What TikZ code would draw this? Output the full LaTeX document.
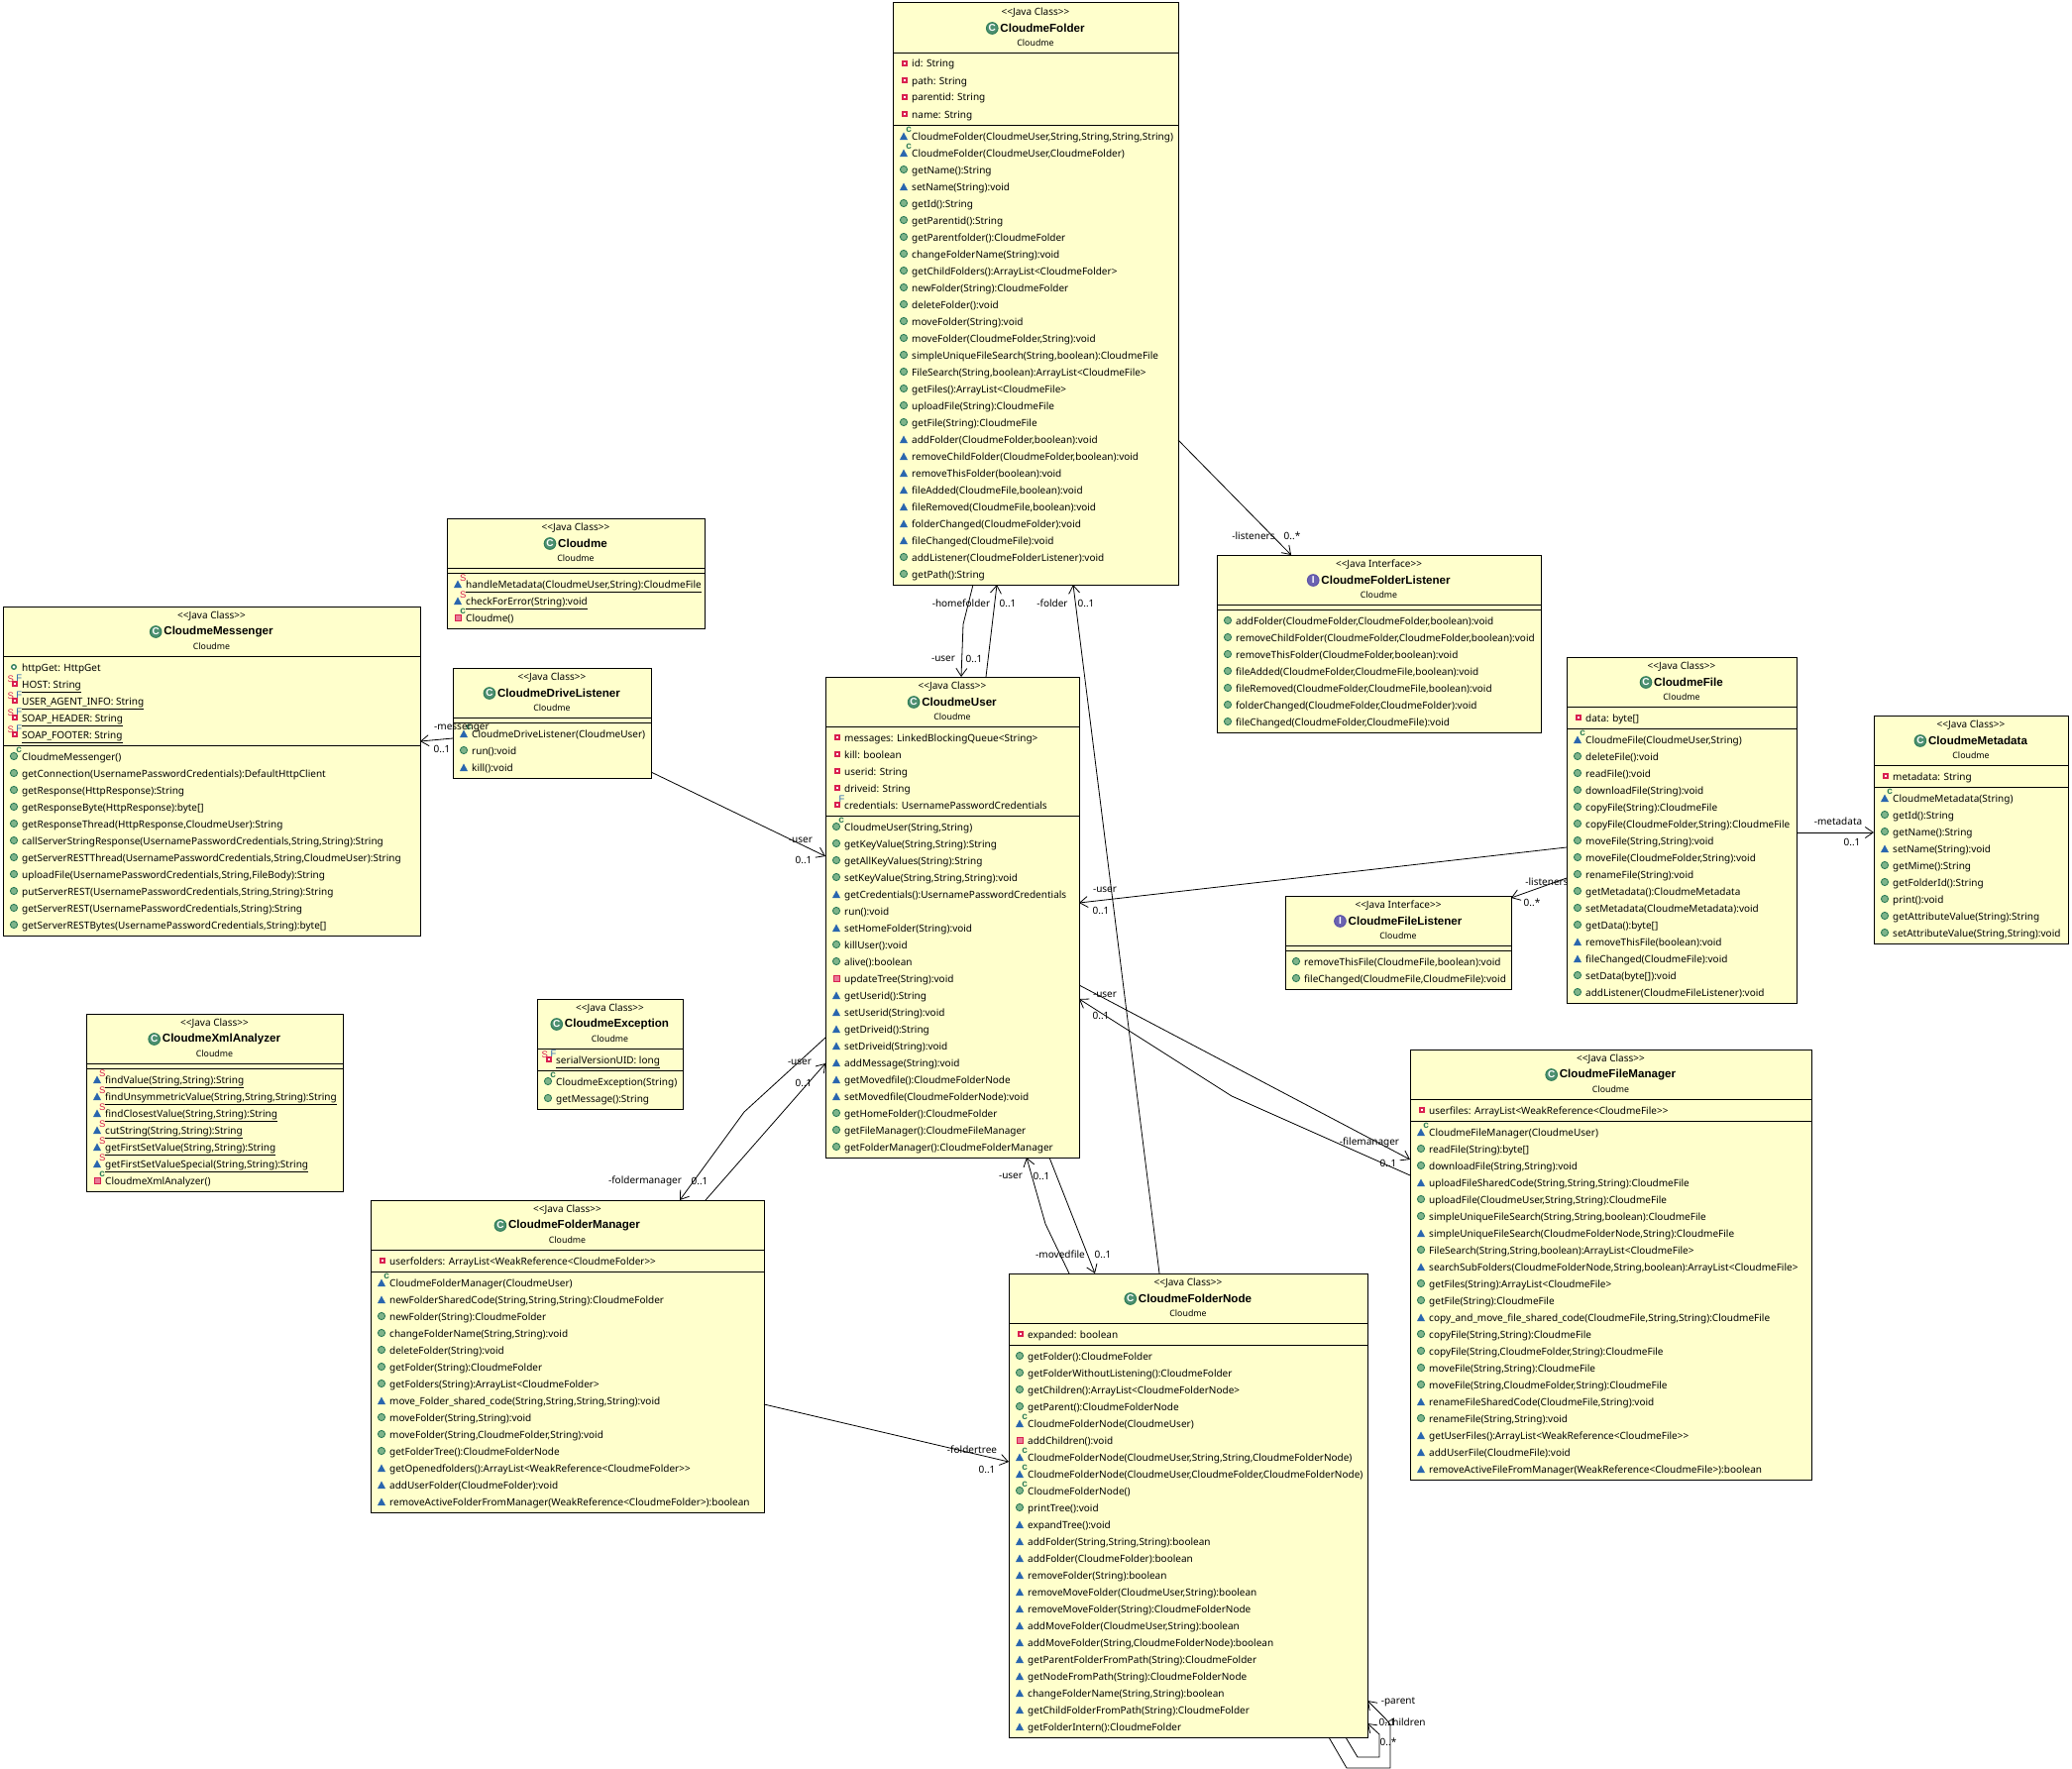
\documentclass[tikz,border=0pt]{standalone}
\usepackage{fontspec}
\setmainfont{Noto Sans}[Ligatures=TeXOff]
\newfontfamily\headfont{Liberation Sans}[Ligatures=TeXOff]
\usetikzlibrary{arrows.meta}

\definecolor{boxfill}{HTML}{FFFFCC}
\definecolor{icgreen}{HTML}{2F7D58}
\definecolor{icgreenl}{HTML}{7FB48A}
\definecolor{icblue}{HTML}{2A66AE}
\definecolor{icred}{HTML}{D9204F}
\definecolor{icviolet}{HTML}{5B52A8}

\newcount\rowno
% class box with its compartments: name, x, y, width, fields, methods, kind, icon, title
\newcommand\umlclass[9]{%
  \def\curcls{#1}\xdef\rowx{#2}\xdef\rowy{\the\numexpr#3+61\relax}\global\rowno=0
  \node[cbox, minimum width=#4pt, minimum height=\the\numexpr60+17*#5+17*#6\relax pt] (#1) at (#2,#3) {};
  \draw[csep] ([yshift=-50pt]#1.north west) -- ([yshift=-50pt]#1.north east);
  \draw[csep] ([yshift=-\the\numexpr55+17*#5\relax pt]#1.north west) -- ([yshift=-\the\numexpr55+17*#5\relax pt]#1.north east);
  \node[rowtxt, anchor=center] (#1-k) at ([yshift=-9.5pt]#1.north) {<<Java #7>>};
  \node[ctitle] (#1-t) at ([xshift=7pt,yshift=-25.5pt]#1.north) {#9};
  \pic at ([xshift=-8pt]#1-t.west) {#8};
  \node[rowtxt, anchor=center, font=\fontsize{8.8}{10}\selectfont] (#1-p) at ([yshift=-40pt]#1.north) {Cloudme};
}
% next compartment
\newcommand\nextpart{\xdef\rowy{\the\numexpr\rowy+5\relax}}
% one member row: icons, text
\newcommand\mbr[2]{%
  \global\advance\rowno by 1
  \node[rowtxt] (\curcls-\the\rowno) at (\rowx+19,\rowy+4) {#2};
  \foreach \ic in {#1} {\edef\doic{\noexpand\pic at (\rowx+11,\rowy) {\ic};}\doic}
  \xdef\rowy{\the\numexpr\rowy+17\relax}%
}
% same, underlined (static)
\newcommand\smbr[2]{%
  \mbr{#1}{#2}
  \draw[line width=.8pt] ([yshift=-4pt]\curcls-\the\rowno.base west) -- ([yshift=-4pt]\curcls-\the\rowno.base east);
}

\begin{document}
\begin{tikzpicture}[
  x=1pt, y=-1pt,
  cbox/.style={draw, line width=1pt, fill=boxfill, anchor=north west, inner sep=0pt, outer sep=0pt},
  csep/.style={line width=.9pt},
  rowtxt/.style={anchor=base west, inner sep=0pt, font=\fontsize{10}{11}\selectfont},
  ctitle/.style={inner sep=0pt, font=\headfont\fontsize{11.6}{12}\selectfont\bfseries},
  lbl/.style={inner sep=0pt, font=\fontsize{10}{11}\selectfont},
  arr/.style={-{Straight Barb[length=8pt,width=11pt]}, line width=.8pt},
  tag/.style={inner sep=0pt, font=\headfont\fontsize{10}{10}\selectfont\bfseries},
  mpub/.pic={\draw[line width=.9pt, draw=icgreen, fill=icgreenl] (0,0) circle (3.6);},
  fpub/.pic={\draw[line width=1.3pt, draw=icgreen, fill=white] (0,0) circle (2.3);},
  mpkg/.pic={\fill[icblue] (-4,4) -- (4,4) -- (0,-3.5) -- cycle;},
  mpriv/.pic={\draw[line width=.9pt, draw=icred, fill=icred!60] (-3,-3) rectangle (3,3);},
  fpriv/.pic={\fill[icred] (-1.7,-2.7) rectangle (3.7,2.7); \fill[white] (0.2,-0.8) rectangle (1.8,0.8);},
  ctor/.pic={\node[tag, text=icgreen] (-c) at (5.2,-6.3) {c};},
  stat/.pic={\node[tag, text=icred, font=\headfont\fontsize{9.5}{10}\selectfont] (-s) at (5.2,-5.5) {S};},
  sfld/.pic={\node[tag, text=icred, font=\headfont\fontsize{9.5}{10}\selectfont] (-s) at (-3.3,-5) {S};},
  fin/.pic={\node[tag, text=icblue, font=\headfont\fontsize{9.5}{10}\selectfont] (-f) at (5.4,-5.5) {F};},
  cicon/.pic={\draw[line width=1pt, draw=icgreen, fill=icgreen!85] (0,0) circle (5.8);
    \node[tag, text=white, font=\headfont\fontsize{10}{10}\selectfont\bfseries] (-l) at (0,0) {C};},
  iicon/.pic={\draw[line width=1pt, draw=icviolet, fill=icviolet!90] (0,0) circle (5.8);
    \node[tag, text=white, font=\headfont\fontsize{10}{10}\selectfont\bfseries] (-l) at (0,0) {I};},
]
  \useasboundingbox (0,0) rectangle (2091,1785);

  % Classes
  \umlclass{cFolder}{901}{3}{288}{4}{27}{Class}{cicon}{CloudmeFolder}
  \mbr{fpriv}{id: String}
  \mbr{fpriv}{path: String}
  \mbr{fpriv}{parentid: String}
  \mbr{fpriv}{name: String}
  \nextpart
  \mbr{mpkg,ctor}{CloudmeFolder(CloudmeUser,String,String,String,String)}
  \mbr{mpkg,ctor}{CloudmeFolder(CloudmeUser,CloudmeFolder)}
  \mbr{mpub}{getName():String}
  \mbr{mpkg}{setName(String):void}
  \mbr{mpub}{getId():String}
  \mbr{mpub}{getParentid():String}
  \mbr{mpub}{getParentfolder():CloudmeFolder}
  \mbr{mpub}{changeFolderName(String):void}
  \mbr{mpub}{getChildFolders():ArrayList<CloudmeFolder>}
  \mbr{mpub}{newFolder(String):CloudmeFolder}
  \mbr{mpub}{deleteFolder():void}
  \mbr{mpub}{moveFolder(String):void}
  \mbr{mpub}{moveFolder(CloudmeFolder,String):void}
  \mbr{mpub}{simpleUniqueFileSearch(String,boolean):CloudmeFile}
  \mbr{mpub}{FileSearch(String,boolean):ArrayList<CloudmeFile>}
  \mbr{mpub}{getFiles():ArrayList<CloudmeFile>}
  \mbr{mpub}{uploadFile(String):CloudmeFile}
  \mbr{mpub}{getFile(String):CloudmeFile}
  \mbr{mpkg}{addFolder(CloudmeFolder,boolean):void}
  \mbr{mpkg}{removeChildFolder(CloudmeFolder,boolean):void}
  \mbr{mpkg}{removeThisFolder(boolean):void}
  \mbr{mpkg}{fileAdded(CloudmeFile,boolean):void}
  \mbr{mpkg}{fileRemoved(CloudmeFile,boolean):void}
  \mbr{mpkg}{folderChanged(CloudmeFolder):void}
  \mbr{mpkg}{fileChanged(CloudmeFile):void}
  \mbr{mpub}{addListener(CloudmeFolderListener):void}
  \mbr{mpub}{getPath():String}

  \umlclass{cMain}{451}{523}{260}{0}{3}{Class}{cicon}{Cloudme}
  \nextpart
  \smbr{mpkg,stat}{handleMetadata(CloudmeUser,String):CloudmeFile}
  \smbr{mpkg,stat}{checkForError(String):void}
  \mbr{mpriv,ctor}{Cloudme()}

  \umlclass{cMessenger}{3}{612}{421}{5}{11}{Class}{cicon}{CloudmeMessenger}
  \mbr{fpub}{httpGet: HttpGet}
  \smbr{fpriv,sfld,fin}{HOST: String}
  \smbr{fpriv,sfld,fin}{USER\_AGENT\_INFO: String}
  \smbr{fpriv,sfld,fin}{SOAP\_HEADER: String}
  \smbr{fpriv,sfld,fin}{SOAP\_FOOTER: String}
  \nextpart
  \mbr{mpub,ctor}{CloudmeMessenger()}
  \mbr{mpub}{getConnection(UsernamePasswordCredentials):DefaultHttpClient}
  \mbr{mpub}{getResponse(HttpResponse):String}
  \mbr{mpub}{getResponseByte(HttpResponse):byte[]}
  \mbr{mpub}{getResponseThread(HttpResponse,CloudmeUser):String}
  \mbr{mpub}{callServerStringResponse(UsernamePasswordCredentials,String,String):String}
  \mbr{mpub}{getServerRESTThread(UsernamePasswordCredentials,String,CloudmeUser):String}
  \mbr{mpub}{uploadFile(UsernamePasswordCredentials,String,FileBody):String}
  \mbr{mpub}{putServerREST(UsernamePasswordCredentials,String,String):String}
  \mbr{mpub}{getServerREST(UsernamePasswordCredentials,String):String}
  \mbr{mpub}{getServerRESTBytes(UsernamePasswordCredentials,String):byte[]}

  \umlclass{cDrive}{457}{674}{200}{0}{3}{Class}{cicon}{CloudmeDriveListener}
  \nextpart
  \mbr{mpkg,ctor}{CloudmeDriveListener(CloudmeUser)}
  \mbr{mpub}{run():void}
  \mbr{mpkg}{kill():void}

  \umlclass{cUser}{833}{683}{256}{5}{20}{Class}{cicon}{CloudmeUser}
  \mbr{fpriv}{messages: LinkedBlockingQueue<String>}
  \mbr{fpriv}{kill: boolean}
  \mbr{fpriv}{userid: String}
  \mbr{fpriv}{driveid: String}
  \mbr{fpriv,fin}{credentials: UsernamePasswordCredentials}
  \nextpart
  \mbr{mpub,ctor}{CloudmeUser(String,String)}
  \mbr{mpub}{getKeyValue(String,String):String}
  \mbr{mpub}{getAllKeyValues(String):String}
  \mbr{mpub}{setKeyValue(String,String,String):void}
  \mbr{mpkg}{getCredentials():UsernamePasswordCredentials}
  \mbr{mpub}{run():void}
  \mbr{mpkg}{setHomeFolder(String):void}
  \mbr{mpub}{killUser():void}
  \mbr{mpub}{alive():boolean}
  \mbr{mpriv}{updateTree(String):void}
  \mbr{mpkg}{getUserid():String}
  \mbr{mpkg}{setUserid(String):void}
  \mbr{mpkg}{getDriveid():String}
  \mbr{mpkg}{setDriveid(String):void}
  \mbr{mpkg}{addMessage(String):void}
  \mbr{mpkg}{getMovedfile():CloudmeFolderNode}
  \mbr{mpkg}{setMovedfile(CloudmeFolderNode):void}
  \mbr{mpub}{getHomeFolder():CloudmeFolder}
  \mbr{mpub}{getFileManager():CloudmeFileManager}
  \mbr{mpub}{getFolderManager():CloudmeFolderManager}

  \umlclass{cFolderLsn}{1228}{560}{327}{0}{7}{Interface}{iicon}{CloudmeFolderListener}
  \nextpart
  \mbr{mpub}{addFolder(CloudmeFolder,CloudmeFolder,boolean):void}
  \mbr{mpub}{removeChildFolder(CloudmeFolder,CloudmeFolder,boolean):void}
  \mbr{mpub}{removeThisFolder(CloudmeFolder,boolean):void}
  \mbr{mpub}{fileAdded(CloudmeFolder,CloudmeFile,boolean):void}
  \mbr{mpub}{fileRemoved(CloudmeFolder,CloudmeFile,boolean):void}
  \mbr{mpub}{folderChanged(CloudmeFolder,CloudmeFolder):void}
  \mbr{mpub}{fileChanged(CloudmeFolder,CloudmeFile):void}

  \umlclass{cFileLsn}{1297}{904}{228}{0}{2}{Interface}{iicon}{CloudmeFileListener}
  \nextpart
  \mbr{mpub}{removeThisFile(CloudmeFile,boolean):void}
  \mbr{mpub}{fileChanged(CloudmeFile,CloudmeFile):void}

  \umlclass{cFile}{1581}{663}{232}{1}{16}{Class}{cicon}{CloudmeFile}
  \mbr{fpriv}{data: byte[]}
  \nextpart
  \mbr{mpkg,ctor}{CloudmeFile(CloudmeUser,String)}
  \mbr{mpub}{deleteFile():void}
  \mbr{mpub}{readFile():void}
  \mbr{mpub}{downloadFile(String):void}
  \mbr{mpub}{copyFile(String):CloudmeFile}
  \mbr{mpub}{copyFile(CloudmeFolder,String):CloudmeFile}
  \mbr{mpub}{moveFile(String,String):void}
  \mbr{mpub}{moveFile(CloudmeFolder,String):void}
  \mbr{mpub}{renameFile(String):void}
  \mbr{mpub}{getMetadata():CloudmeMetadata}
  \mbr{mpub}{setMetadata(CloudmeMetadata):void}
  \mbr{mpub}{getData():byte[]}
  \mbr{mpkg}{removeThisFile(boolean):void}
  \mbr{mpkg}{fileChanged(CloudmeFile):void}
  \mbr{mpub}{setData(byte[]):void}
  \mbr{mpub}{addListener(CloudmeFileListener):void}

  \umlclass{cMeta}{1891}{722}{196}{1}{9}{Class}{cicon}{CloudmeMetadata}
  \mbr{fpriv}{metadata: String}
  \nextpart
  \mbr{mpkg,ctor}{CloudmeMetadata(String)}
  \mbr{mpub}{getId():String}
  \mbr{mpub}{getName():String}
  \mbr{mpkg}{setName(String):void}
  \mbr{mpub}{getMime():String}
  \mbr{mpub}{getFolderId():String}
  \mbr{mpub}{print():void}
  \mbr{mpub}{getAttributeValue(String):String}
  \mbr{mpub}{setAttributeValue(String,String):void}

  \umlclass{cFileMgr}{1423}{1059}{405}{1}{21}{Class}{cicon}{CloudmeFileManager}
  \mbr{fpriv}{userfiles: ArrayList<WeakReference<CloudmeFile>>}
  \nextpart
  \mbr{mpkg,ctor}{CloudmeFileManager(CloudmeUser)}
  \mbr{mpub}{readFile(String):byte[]}
  \mbr{mpub}{downloadFile(String,String):void}
  \mbr{mpkg}{uploadFileSharedCode(String,String,String):CloudmeFile}
  \mbr{mpub}{uploadFile(CloudmeUser,String,String):CloudmeFile}
  \mbr{mpub}{simpleUniqueFileSearch(String,String,boolean):CloudmeFile}
  \mbr{mpkg}{simpleUniqueFileSearch(CloudmeFolderNode,String):CloudmeFile}
  \mbr{mpub}{FileSearch(String,String,boolean):ArrayList<CloudmeFile>}
  \mbr{mpkg}{searchSubFolders(CloudmeFolderNode,String,boolean):ArrayList<CloudmeFile>}
  \mbr{mpub}{getFiles(String):ArrayList<CloudmeFile>}
  \mbr{mpub}{getFile(String):CloudmeFile}
  \mbr{mpkg}{copy\_and\_move\_file\_shared\_code(CloudmeFile,String,String):CloudmeFile}
  \mbr{mpub}{copyFile(String,String):CloudmeFile}
  \mbr{mpub}{copyFile(String,CloudmeFolder,String):CloudmeFile}
  \mbr{mpub}{moveFile(String,String):CloudmeFile}
  \mbr{mpub}{moveFile(String,CloudmeFolder,String):CloudmeFile}
  \mbr{mpkg}{renameFileSharedCode(CloudmeFile,String):void}
  \mbr{mpub}{renameFile(String,String):void}
  \mbr{mpkg}{getUserFiles():ArrayList<WeakReference<CloudmeFile>>}
  \mbr{mpkg}{addUserFile(CloudmeFile):void}
  \mbr{mpkg}{removeActiveFileFromManager(WeakReference<CloudmeFile>):boolean}

  \umlclass{cXml}{87}{1023}{259}{0}{7}{Class}{cicon}{CloudmeXmlAnalyzer}
  \nextpart
  \smbr{mpkg,stat}{findValue(String,String):String}
  \smbr{mpkg,stat}{findUnsymmetricValue(String,String,String):String}
  \smbr{mpkg,stat}{findClosestValue(String,String):String}
  \smbr{mpkg,stat}{cutString(String,String):String}
  \smbr{mpkg,stat}{getFirstSetValue(String,String):String}
  \smbr{mpkg,stat}{getFirstSetValueSpecial(String,String):String}
  \mbr{mpriv,ctor}{CloudmeXmlAnalyzer()}

  \umlclass{cExc}{542}{1008}{147}{1}{2}{Class}{cicon}{CloudmeException}
  \smbr{fpriv,sfld,fin}{serialVersionUID: long}
  \nextpart
  \mbr{mpub,ctor}{CloudmeException(String)}
  \mbr{mpub}{getMessage():String}

  \umlclass{cFolderMgr}{374}{1211}{397}{1}{14}{Class}{cicon}{CloudmeFolderManager}
  \mbr{fpriv}{userfolders: ArrayList<WeakReference<CloudmeFolder>>}
  \nextpart
  \mbr{mpkg,ctor}{CloudmeFolderManager(CloudmeUser)}
  \mbr{mpkg}{newFolderSharedCode(String,String,String):CloudmeFolder}
  \mbr{mpub}{newFolder(String):CloudmeFolder}
  \mbr{mpub}{changeFolderName(String,String):void}
  \mbr{mpub}{deleteFolder(String):void}
  \mbr{mpub}{getFolder(String):CloudmeFolder}
  \mbr{mpub}{getFolders(String):ArrayList<CloudmeFolder>}
  \mbr{mpkg}{move\_Folder\_shared\_code(String,String,String,String):void}
  \mbr{mpub}{moveFolder(String,String):void}
  \mbr{mpub}{moveFolder(String,CloudmeFolder,String):void}
  \mbr{mpub}{getFolderTree():CloudmeFolderNode}
  \mbr{mpkg}{getOpenedfolders():ArrayList<WeakReference<CloudmeFolder>>}
  \mbr{mpkg}{addUserFolder(CloudmeFolder):void}
  \mbr{mpkg}{removeActiveFolderFromManager(WeakReference<CloudmeFolder>):boolean}

  \umlclass{cNode}{1018}{1285}{362}{1}{23}{Class}{cicon}{CloudmeFolderNode}
  \mbr{fpriv}{expanded: boolean}
  \nextpart
  \mbr{mpub}{getFolder():CloudmeFolder}
  \mbr{mpub}{getFolderWithoutListening():CloudmeFolder}
  \mbr{mpub}{getChildren():ArrayList<CloudmeFolderNode>}
  \mbr{mpub}{getParent():CloudmeFolderNode}
  \mbr{mpkg,ctor}{CloudmeFolderNode(CloudmeUser)}
  \mbr{mpriv}{addChildren():void}
  \mbr{mpkg,ctor}{CloudmeFolderNode(CloudmeUser,String,String,CloudmeFolderNode)}
  \mbr{mpkg,ctor}{CloudmeFolderNode(CloudmeUser,CloudmeFolder,CloudmeFolderNode)}
  \mbr{mpub,ctor}{CloudmeFolderNode()}
  \mbr{mpub}{printTree():void}
  \mbr{mpkg}{expandTree():void}
  \mbr{mpkg}{addFolder(String,String,String):boolean}
  \mbr{mpkg}{addFolder(CloudmeFolder):boolean}
  \mbr{mpkg}{removeFolder(String):boolean}
  \mbr{mpkg}{removeMoveFolder(CloudmeUser,String):boolean}
  \mbr{mpkg}{removeMoveFolder(String):CloudmeFolderNode}
  \mbr{mpkg}{addMoveFolder(CloudmeUser,String):boolean}
  \mbr{mpkg}{addMoveFolder(String,CloudmeFolderNode):boolean}
  \mbr{mpkg}{getParentFolderFromPath(String):CloudmeFolder}
  \mbr{mpkg}{getNodeFromPath(String):CloudmeFolderNode}
  \mbr{mpkg}{changeFolderName(String,String):boolean}
  \mbr{mpkg}{getChildFolderFromPath(String):CloudmeFolder}
  \mbr{mpkg}{getFolderIntern():CloudmeFolder}

  % Associations
  \draw[arr] ([yshift=-441pt]cFolder.north east) -- ([xshift=75pt]cFolderLsn.north west);
  \draw[arr] ([xshift=81pt]cFolder.south west) -- ++(-10,40) -- ([xshift=137pt]cUser.north west);
  \draw[arr] ([xshift=162pt]cUser.north west) -- ([xshift=105pt]cFolder.south west);
  \draw[arr] ([xshift=152pt]cNode.north west) -- ([xshift=182pt]cFolder.south west);
  \draw[arr] ([yshift=-71pt]cDrive.north west) -- ([yshift=-136pt]cMessenger.north east);
  \draw[arr] ([yshift=-105pt]cDrive.north east) -- ([yshift=-181pt]cUser.north west);
  \draw[arr] ([yshift=-192pt]cFile.north west) -- ([yshift=-228pt]cUser.north east);
  \draw[arr] ([yshift=-223pt]cFile.north west) -- ([yshift=-2pt]cFileLsn.north east);
  \draw[arr] ([yshift=-177pt]cFile.north east) -- ([yshift=-118pt]cMeta.north west);
  \draw[arr] ([yshift=-311pt]cUser.north east) -- ([yshift=-111pt]cFileMgr.north west);
  \draw[arr] ([yshift=-127pt]cFileMgr.north west) -- ++(-180,-80) -- ([yshift=-325pt]cUser.north east);
  \draw[arr] ([yshift=-364pt]cUser.north west) -- ++(-82,75) -- ([xshift=312pt]cFolderMgr.north west);
  \draw[arr] ([xshift=338pt]cFolderMgr.north west) -- ([yshift=-390pt]cUser.north west);
  \draw[arr] ([xshift=61pt]cNode.north west) -- ++(-24,-50) -- ([xshift=203pt]cUser.south west);
  \draw[arr] ([xshift=226pt]cUser.south west) -- ([xshift=87pt]cNode.north west);
  \draw[arr] ([yshift=-206pt]cFolderMgr.north east) -- ([yshift=-190pt]cNode.north west);

  % Self loops
  \draw[arr] ([xshift=323pt]cNode.south west) -- ++(18,31) -- ++(44,0) -- ++(0,-44) -- ++(-5,-6) -- ([yshift=37pt]cNode.south east);
  \draw[arr] ([xshift=340pt]cNode.south west) -- ++(12,20) -- ++(22,0) -- ++(0,-23) -- ([yshift=14pt]cNode.south east);

  % End labels
  \node[lbl] (lLsnA) at (1265,541) {-listeners};
  \node[lbl] (lLsnB) at (1304,541) {0..*};
  \node[lbl] (lHomeA) at (970,609) {-homefolder};
  \node[lbl] (lHomeB) at (1017,609) {0..1};
  \node[lbl] (lOwnerA) at (952,665) {-user};
  \node[lbl] (lOwnerB) at (983,665) {0..1};
  \node[lbl] (lFolderA) at (1062,609) {-folder};
  \node[lbl] (lFolderB) at (1096,609) {0..1};
  \node[lbl] (lMsgA) at (466,735) {-messenger};
  \node[lbl] (lMsgB) at (446,756) {0..1};
  \node[lbl] (lDrvA) at (808,848) {-user};
  \node[lbl] (lDrvB) at (811,868) {0..1};
  \node[lbl] (lFileA) at (1115,898) {-user};
  \node[lbl] (lFileB) at (1111,919) {0..1};
  \node[lbl] (lFLsnA) at (1561,890) {-listeners};
  \node[lbl] (lFLsnB) at (1546,911) {0..*};
  \node[lbl] (lMetaA) at (1855,829) {-metadata};
  \node[lbl] (lMetaB) at (1869,850) {0..1};
  \node[lbl] (lFMgrA) at (1382,1153) {-filemanager};
  \node[lbl] (lFMgrB) at (1401,1174) {0..1};
  \node[lbl] (lFOwnA) at (1115,1004) {-user};
  \node[lbl] (lFOwnB) at (1111,1025) {0..1};
  \node[lbl] (lDMgrA) at (651,1192) {-foldermanager};
  \node[lbl] (lDMgrB) at (706,1192) {0..1};
  \node[lbl] (lDOwnA) at (807,1072) {-user};
  \node[lbl] (lDOwnB) at (811,1093) {0..1};
  \node[lbl] (lNOwnA) at (1020,1187) {-user};
  \node[lbl] (lNOwnB) at (1051,1187) {0..1};
  \node[lbl] (lMovedA) at (1070,1266) {-movedfile};
  \node[lbl] (lMovedB) at (1113,1266) {0..1};
  \node[lbl] (lTreeA) at (981,1463) {-foldertree};
  \node[lbl] (lTreeB) at (996,1483) {0..1};
  \node[lbl] (lParentA) at (1411,1717) {-parent};
  \node[lbl] (lParentB) at (1400,1738) {0..1};
  \node[lbl] (lKidsA) at (1418,1738) {-children};
  \node[lbl] (lKidsB) at (1401,1758) {0..*};
\end{tikzpicture}
\end{document}
